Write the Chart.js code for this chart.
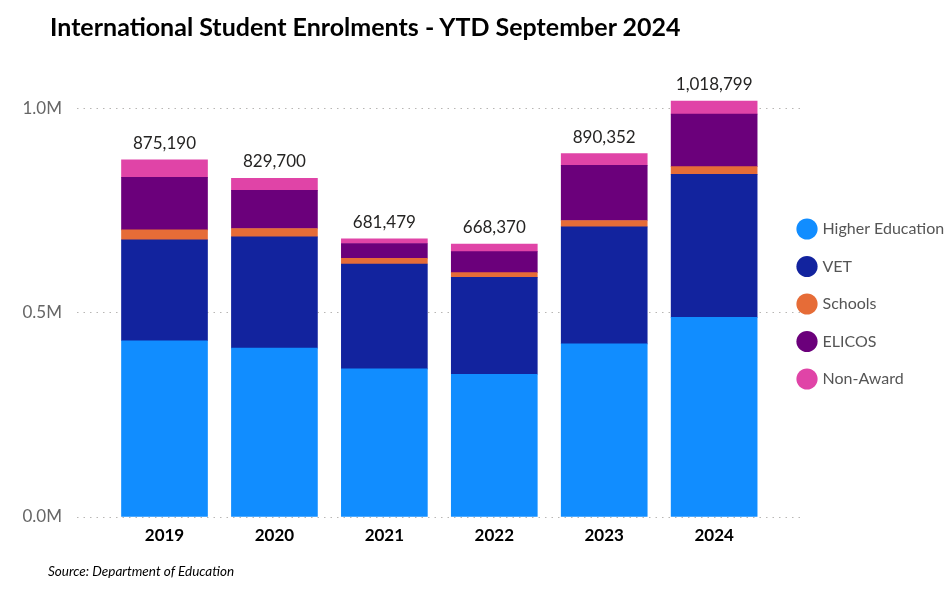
<!DOCTYPE html>
<html>
<head>
<meta charset="utf-8">
<script src="https://cdn.jsdelivr.net/npm/chart.js@4.4.1/dist/chart.umd.min.js"></script>
<style>
  body { margin: 0; background: #fff; }
  #wrap { position: relative; width: 952px; height: 589px; overflow: hidden; }
  #title { position: absolute; left: 50px; top: 11px; font: bold 25px Lato, sans-serif; color: #000; white-space: nowrap; }
  #source { position: absolute; left: 48px; top: 563px; font: italic 13.5px Lato, sans-serif; color: #000; }
  canvas { position: absolute; left: 0; top: 0; }
</style>
</head>
<body>
<div id="wrap">
  <canvas id="chart" width="952" height="589"></canvas>
  <div id="title">International Student Enrolments - YTD September 2024</div>
  <div id="source">Source: Department of Education</div>
</div>
<script>
const years = ["2019", "2020", "2021", "2022", "2023", "2024"];
const higherEd = [431700, 413600, 362900, 349700, 424200, 488900];
const vet = [247200, 272700, 257000, 237500, 286700, 350600];
const schools = [24500, 20600, 14000, 11500, 15600, 18700];
const elicos = [128600, 93100, 36100, 51600, 135100, 128800];
const nonAward = [43190, 29700, 11479, 18070, 28752, 31799];
const yTicks = [0, 500000, 1000000];

const font = "Lato, 'Segoe UI', sans-serif";

function toPoints(arr) {
  return arr.map((v, i) => ({ x: i, y: v }));
}

const series = [
  { label: "Higher Education", data: higherEd, color: "#118DFF" },
  { label: "VET", data: vet, color: "#12239E" },
  { label: "Schools", data: schools, color: "#E66C37" },
  { label: "ELICOS", data: elicos, color: "#6B007B" },
  { label: "Non-Award", data: nonAward, color: "#E044A7" },
];

// totals printed above each stack
const totalLabels = {
  id: "totalLabels",
  afterDatasetsDraw(chart) {
    const ctx = chart.ctx;
    const top = chart.getDatasetMeta(series.length - 1);
    ctx.save();
    ctx.font = "17px " + font;
    ctx.fillStyle = "#252423";
    ctx.textAlign = "center";
    ctx.textBaseline = "bottom";
    years.forEach((y, i) => {
      const total = series.reduce((s, d) => s + d.data[i], 0);
      const bar = top.data[i];
      ctx.fillText(total.toLocaleString("en-US"), bar.x, bar.y - 8);
    });
    ctx.restore();
  },
};

// nudge legend next to plot like the original
const legendPlace = {
  id: "legendPlace",
  afterLayout(chart) {
    const lg = chart.legend;
    lg.left = 778;
    lg.top = lg.top - 49;
  },
};

new Chart(document.getElementById("chart"), {
  type: "bar",
  data: {
    datasets: series.map((s) => ({
      label: s.label,
      data: toPoints(s.data),
      backgroundColor: s.color,
      borderWidth: 0,
      barThickness: 86,
    })),
  },
  options: {
    responsive: false,
    animation: false,
    layout: { padding: { top: 68, left: 0, right: 0, bottom: 0 } },
    plugins: {
      legend: {
        position: "right",
        maxWidth: 152,
        labels: {
          usePointStyle: true,
          pointStyle: "circle",
          boxWidth: 15,
          boxHeight: 15,
          padding: 21.5,
          color: "#555",
          font: { family: font, size: 16 },
        },
      },
      tooltip: { enabled: false },
    },
    scales: {
      x: {
        type: "linear",
        stacked: true,
        offset: false,
        min: -0.796,
        max: 5.781,
        afterFit(scale) { scale.height = 72; },
        afterBuildTicks(scale) { scale.ticks = years.map((y, i) => ({ value: i })); },
        grid: { display: false },
        border: { display: false },
        ticks: {
          padding: 0,
          color: "#000",
          font: { family: font, size: 17, weight: "bold" },
          callback: (v) => years[v],
        },
      },
      y: {
        stacked: true,
        min: 0,
        max: 1100000,
        afterFit(scale) { scale.width = 77; },
        afterBuildTicks(scale) { scale.ticks = yTicks.map((v) => ({ value: v })); },
        border: { display: false, dash: [1.5, 5] },
        grid: {
          color: "#B8B6B4",
          lineWidth: 1,
          drawTicks: false,
        },
        ticks: {
          padding: 15,
          color: "#666",
          font: { family: font, size: 17 },
          callback: (v) => (v / 1000000).toFixed(1) + "M",
        },
      },
    },
  },
  plugins: [totalLabels, legendPlace],
});
</script>
</body>
</html>
